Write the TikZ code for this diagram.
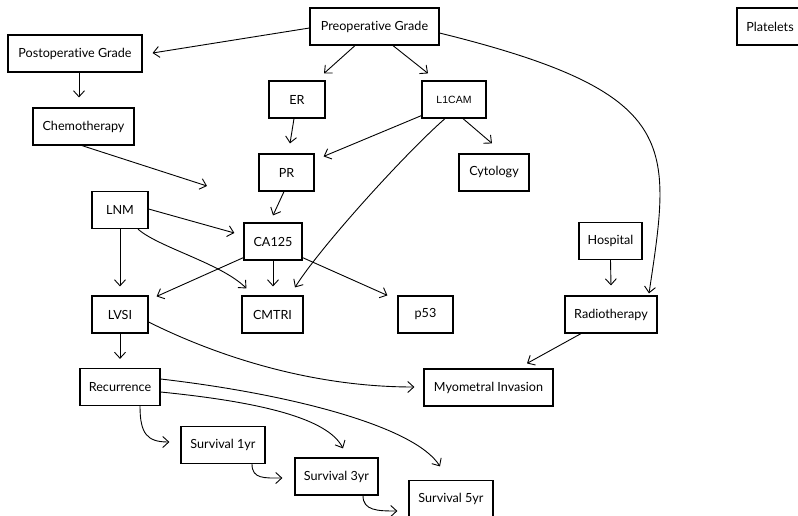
\documentclass[tikz,border=0pt]{standalone}
\usepackage{fontspec}
\setmainfont{Lato}[Ligatures=NoCommon]
\newfontfamily\labelsans{Liberation Sans}
\usetikzlibrary{calc,arrows.meta}

\tikzset{
  box/.style={draw, line width=1.2pt, rectangle, inner sep=0pt,
    minimum height=37pt, font=\fontsize{12.6}{15}\selectfont},
  edge/.style={line width=0.9pt,
    -{Straight Barb[length=6pt,width=11pt,line width=0.9pt]}}
}

\begin{document}
\begin{tikzpicture}[x=1pt,y=-1pt]
\useasboundingbox (0,0) rectangle (798,515);
\clip (0,0) rectangle (798,515);
\fill[white] (0,0) rectangle (798,515);

% variables
\node[box, minimum width=129pt] (pre)   at (374.5,26.5) {Preoperative Grade};
\node[box, minimum width=134pt] (post)  at (75,53.5)    {Postoperative Grade};
\node[box, minimum width=66pt]  (plat)  at (770,26.5)   {Platelets};
\node[box, minimum width=56pt]  (er)    at (297,99.5)   {ER};
\node[box, minimum width=64pt, font=\labelsans\fontsize{10.5}{12}\selectfont]
                                (l1cam) at (454,99.5)   {L1CAM};
\node[box, minimum width=101pt] (chemo) at (83.5,126.5) {Chemotherapy};
\node[box, minimum width=55pt]  (pr)    at (286.5,172.5){PR};
\node[box, minimum width=70pt]  (cyto)  at (494,172.5)  {Cytology};
\node[box, minimum width=56pt]  (lnm)   at (120,210)    {LNM};
\node[box, minimum width=58pt]  (ca125) at (273,241.5)  {CA125};
\node[box, minimum width=63pt]  (hosp)  at (610.5,241)  {Hospital};
\node[box, minimum width=56pt]  (lvsi)  at (120,314.5)  {LVSI};
\node[box, minimum width=61pt]  (cmtri) at (272.5,314.5){CMTRI};
\node[box, minimum width=55pt]  (p53)   at (425.5,314.5){p53};
\node[box, minimum width=92pt]  (radio) at (611,314.5)  {Radiotherapy};
\node[box, minimum width=80pt]  (recur) at (120,387)    {Recurrence};
\node[box, minimum width=129pt] (myo)   at (488.5,387.5){Myometral Invasion};
\node[box, minimum width=84pt]  (s1)    at (223,445)    {Survival 1yr};
\node[box, minimum width=83pt]  (s3)    at (336.5,476.5){Survival 3yr};
\node[box, minimum width=84pt]  (s5)    at (451,499)    {Survival 5yr};

\coordinate (chemoend) at (207,186);

% connectors
\draw[edge] ($(pre.west)+(0,1.5)$) -- ($(post.east)+(10,-0.5)$);
\draw[edge] ($(pre.south)+(-19.5,0)$) -- ($(er.north)+(27,-7)$);
\draw[edge] ($(pre.south)+(18.5,0)$) -- ($(l1cam.north)+(-26,-7)$);
\draw[edge] ($(pre.east)+(0,6.5)$) .. controls +(242.5,60) and +(22.5,-150) .. ($(radio.north)+(38,-2)$);
\draw[edge] ($(post.south)+(4,0)$) -- ($(chemo.north)+(-4.5,-10)$);
\draw[edge] ($(chemo.south)+(-1.5,0)$) -- (chemoend);
\draw[edge] ($(er.south)+(-3,0)$) -- ($(pr.north)+(3.5,-10)$);
\draw[edge] ($(l1cam.south west)+(0,-3)$) -- ($(pr.north east)+(9,3)$);
\draw[edge] ($(l1cam.south)+(-9,0)$) .. controls +(-40,35) and +(25,-40) .. ($(cmtri.north)+(22.5,-8)$);
\draw[edge] ($(l1cam.south)+(9,0)$) -- ($(cyto.north)+(-2,-10)$);
\draw[edge] ($(pr.south)+(-2.5,0)$) -- ($(ca125.north)+(0,-7)$);
\draw[edge] ($(lnm.east)+(0,-1)$) -- ($(ca125.west)+(-9,-8.5)$);
\draw[edge] ($(lnm.south)+(18,0)$) .. controls +(20,18) and +(-25,-25) .. ($(cmtri.north west)+(5,-7)$);
\draw[edge] (lnm.south) -- ($(lvsi.north)+(0,-9)$);
\draw[edge] ($(ca125.south west)+(0,-3)$) -- ($(lvsi.north east)+(8,1)$);
\draw[edge] (ca125.south) -- ($(cmtri.north)+(0.5,-9)$);
\draw[edge] ($(ca125.south east)+(0,-3)$) -- ($(p53.north west)+(-10,0)$);
\draw[edge] (hosp.south) -- ($(radio.north)+(0,-10)$);
\draw[edge] ($(radio.south)+(-30,0)$) -- ($(myo.north)+(38.5,-5)$);
\draw[edge] ($(lvsi.east)+(0,7.5)$) .. controls +(60,30) and +(-110,0) .. ($(myo.west)+(-9,-0.5)$);
\draw[edge] (lvsi.south) -- ($(recur.north)+(0,-9)$);
\draw[edge] ($(recur.south)+(20,0)$) .. controls +(0,28) and +(-22,0) .. ($(s1.west)+(-11,-3)$);
\draw[edge] ($(recur.east)+(0,5)$) .. controls +(100,10) and +(-15,-30) .. ($(s3.north)+(6.5,-9)$);
\draw[edge] ($(recur.east)+(0,-8)$) .. controls +(130,15) and +(-25,-40) .. ($(s5.north)+(-11,-13.5)$);
\draw[edge] ($(s1.south)+(29,0)$) .. controls +(0,15) and +(-18,0) .. ($(s3.west)+(-12,1.5)$);
\draw[edge] ($(s3.south)+(26.5,0)$) .. controls +(0,15) and +(-20,0) .. ($(s5.west)+(-11,12)$);
\end{tikzpicture}
\end{document}
